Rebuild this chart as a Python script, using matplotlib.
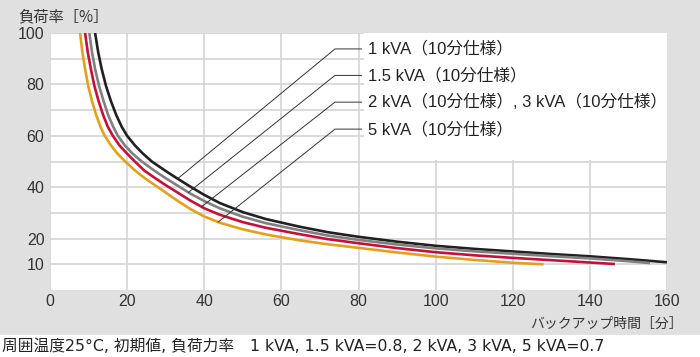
import numpy as np
import matplotlib
matplotlib.use('Agg')
import matplotlib.pyplot as plt
from matplotlib.patches import Rectangle

plt.rcParams['font.family'] = ['Liberation Sans', 'Noto Sans CJK JP']

# backup time [min] vs load rate [%]
x_1k = [11.7, 12.5, 13.4, 14.5, 15.8, 17.2, 18.6, 20, 22, 24, 26.4, 30, 33.1, 36.3, 40, 44.1,
        50, 56, 64.8, 72, 80, 90, 100, 110, 120, 130, 140, 150, 160]
y_1k = [100, 92.5, 86, 79.5, 73.5, 68, 63.5, 60, 56.3, 53.2, 50, 46.3, 43.3, 40.3, 37, 33.8,
        30.3, 27.6, 24.6, 22.5, 20.7, 18.8, 17.2, 16, 15, 14, 13.1, 12, 10.8]

x_15k = [10.2, 10.9, 11.7, 12.7, 13.9, 15.1, 16.4, 17.6, 19.4, 21.3, 23.8, 27.2, 30, 33.1, 36.3,
         40, 44, 50, 56, 64.8, 72, 80, 90, 100, 110, 120, 130, 140, 150, 155.6]
y_15k = [100, 92.5, 86, 79.5, 73.5, 68, 63.5, 60, 56.3, 53.2, 50, 46.3, 43.5, 40.6, 37.6,
         34.6, 31.8, 28.5, 26.0, 23.25, 21.2, 19.5, 17.7, 16.2, 15.05, 14.1, 13.15, 12.3, 11.2, 10.5]

x_23k = [9.1, 9.8, 10.6, 11.5, 12.6, 13.8, 15.0, 16.3, 18, 19.9, 22, 24.6, 27.2, 30, 33.1, 36.3,
         40, 44, 50, 56, 64.8, 72, 80, 90, 100, 110, 120, 130, 140, 146.5]
y_23k = [100, 92.5, 86, 79.5, 73.5, 68, 63.5, 60, 56.3, 53.2, 50, 46.3, 43.6, 40.8, 37.9, 34.9,
         31.8, 29.3, 26.4, 24.2, 21.7, 19.8, 18.2, 16.3, 14.7, 13.5, 12.5, 11.6, 10.7, 10.1]

x_5k = [7.8, 8.4, 9.1, 9.9, 10.9, 12, 13.1, 14.2, 15.8, 17.4, 19.5, 22.2, 24.6, 30, 33.1, 36.3,
        40, 44, 50, 56, 64.8, 72, 80, 90, 100, 110, 120, 128]
y_5k = [100, 92.5, 86, 79.5, 73.5, 68, 63.5, 60, 56.3, 53.2, 50, 46.3, 43.5, 37.9, 34.7, 31.6,
        28.6, 26.2, 23.6, 21.6, 19.3, 17.8, 16.4, 14.6, 13.0, 11.7, 10.6, 10.0]

labels = ['1 kVA（10分仕様）', '1.5 kVA（10分仕様）',
          '2 kVA（10分仕様）, 3 kVA（10分仕様）', '5 kVA（10分仕様）']
colors = ['#231f20', '#808080', '#c4103c', '#e3a01e']
leader_x = [33.1, 35.9, 39.3, 43.6]
label_y = [93.8, 83.5, 73.1, 62.6]

xticks = [0, 20, 40, 60, 80, 100, 120, 140, 160]
yticks = [10, 20, 40, 60, 80, 100]

fig = plt.figure(figsize=(7, 3.57), dpi=100, facecolor='w')
fig.add_artist(Rectangle((0, 1 - 335/357), 1, 335/357, transform=fig.transFigure,
                         facecolor='#e0e0e0', edgecolor='none', zorder=0))

ax = fig.add_axes([50/700, 1 - 290/357, 617/700, 257/357])
ax.set_facecolor('w')
ax.set_xlim(0, 160)
ax.set_ylim(0, 100)
ax.set_xticks(xticks)
ax.set_yticks(yticks)
ax.set_yticks([30, 50, 70, 90], minor=True)
ax.set_axisbelow(True)
ax.grid(True, which='both', color='#d4d4d4', lw=1.2)
ax.tick_params(which='both', length=0, labelsize=11.5, labelcolor='#333333')
ax.tick_params(axis='y', pad=4)
ax.tick_params(axis='x', pad=3)
for s in ax.spines.values():
    s.set_visible(False)

# white panel behind the labels
ax.add_patch(Rectangle((81.3, 50.6), 78.7, 49.4, facecolor='w', edgecolor='none', zorder=1))

series = [(x_1k, y_1k), (x_15k, y_15k), (x_23k, y_23k), (x_5k, y_5k)]
for (xs, ys), c in zip(series, colors):
    ax.plot(xs, ys, color=c, lw=1.9, zorder=3, solid_capstyle='butt', solid_joinstyle='round')

for (xs, ys), lx, ly, lab in zip(series, leader_x, label_y, labels):
    y0 = np.interp(lx, xs, ys)
    ax.plot([lx, 73.9, 80.8], [y0, ly, ly], color='#333333', lw=0.7, zorder=4)
    ax.text(82.4, ly, lab, va='center', ha='left', fontsize=12, color='#222222', zorder=5)

fig.text(18/700, 1 - 17/357, '負荷率［%］', va='center', ha='left', fontsize=11,
         color='#333333', family=['Noto Sans CJK JP'])
fig.text(683/700, 1 - 324/357, 'バックアップ時間［分］', va='center', ha='right',
         fontsize=10, color='#333333', family=['Noto Sans CJK JP'])
fig.text(2/700, 1 - 346/357,
         '周囲温度25°C, 初期値, 負荷力率　1 kVA, 1.5 kVA=0.8, 2 kVA, 3 kVA, 5 kVA=0.7',
         va='center', ha='left', fontsize=11.3, color='#222222',
         family=['DejaVu Sans', 'Noto Sans CJK JP'])

fig.savefig('out.png', dpi=100, facecolor='w')
